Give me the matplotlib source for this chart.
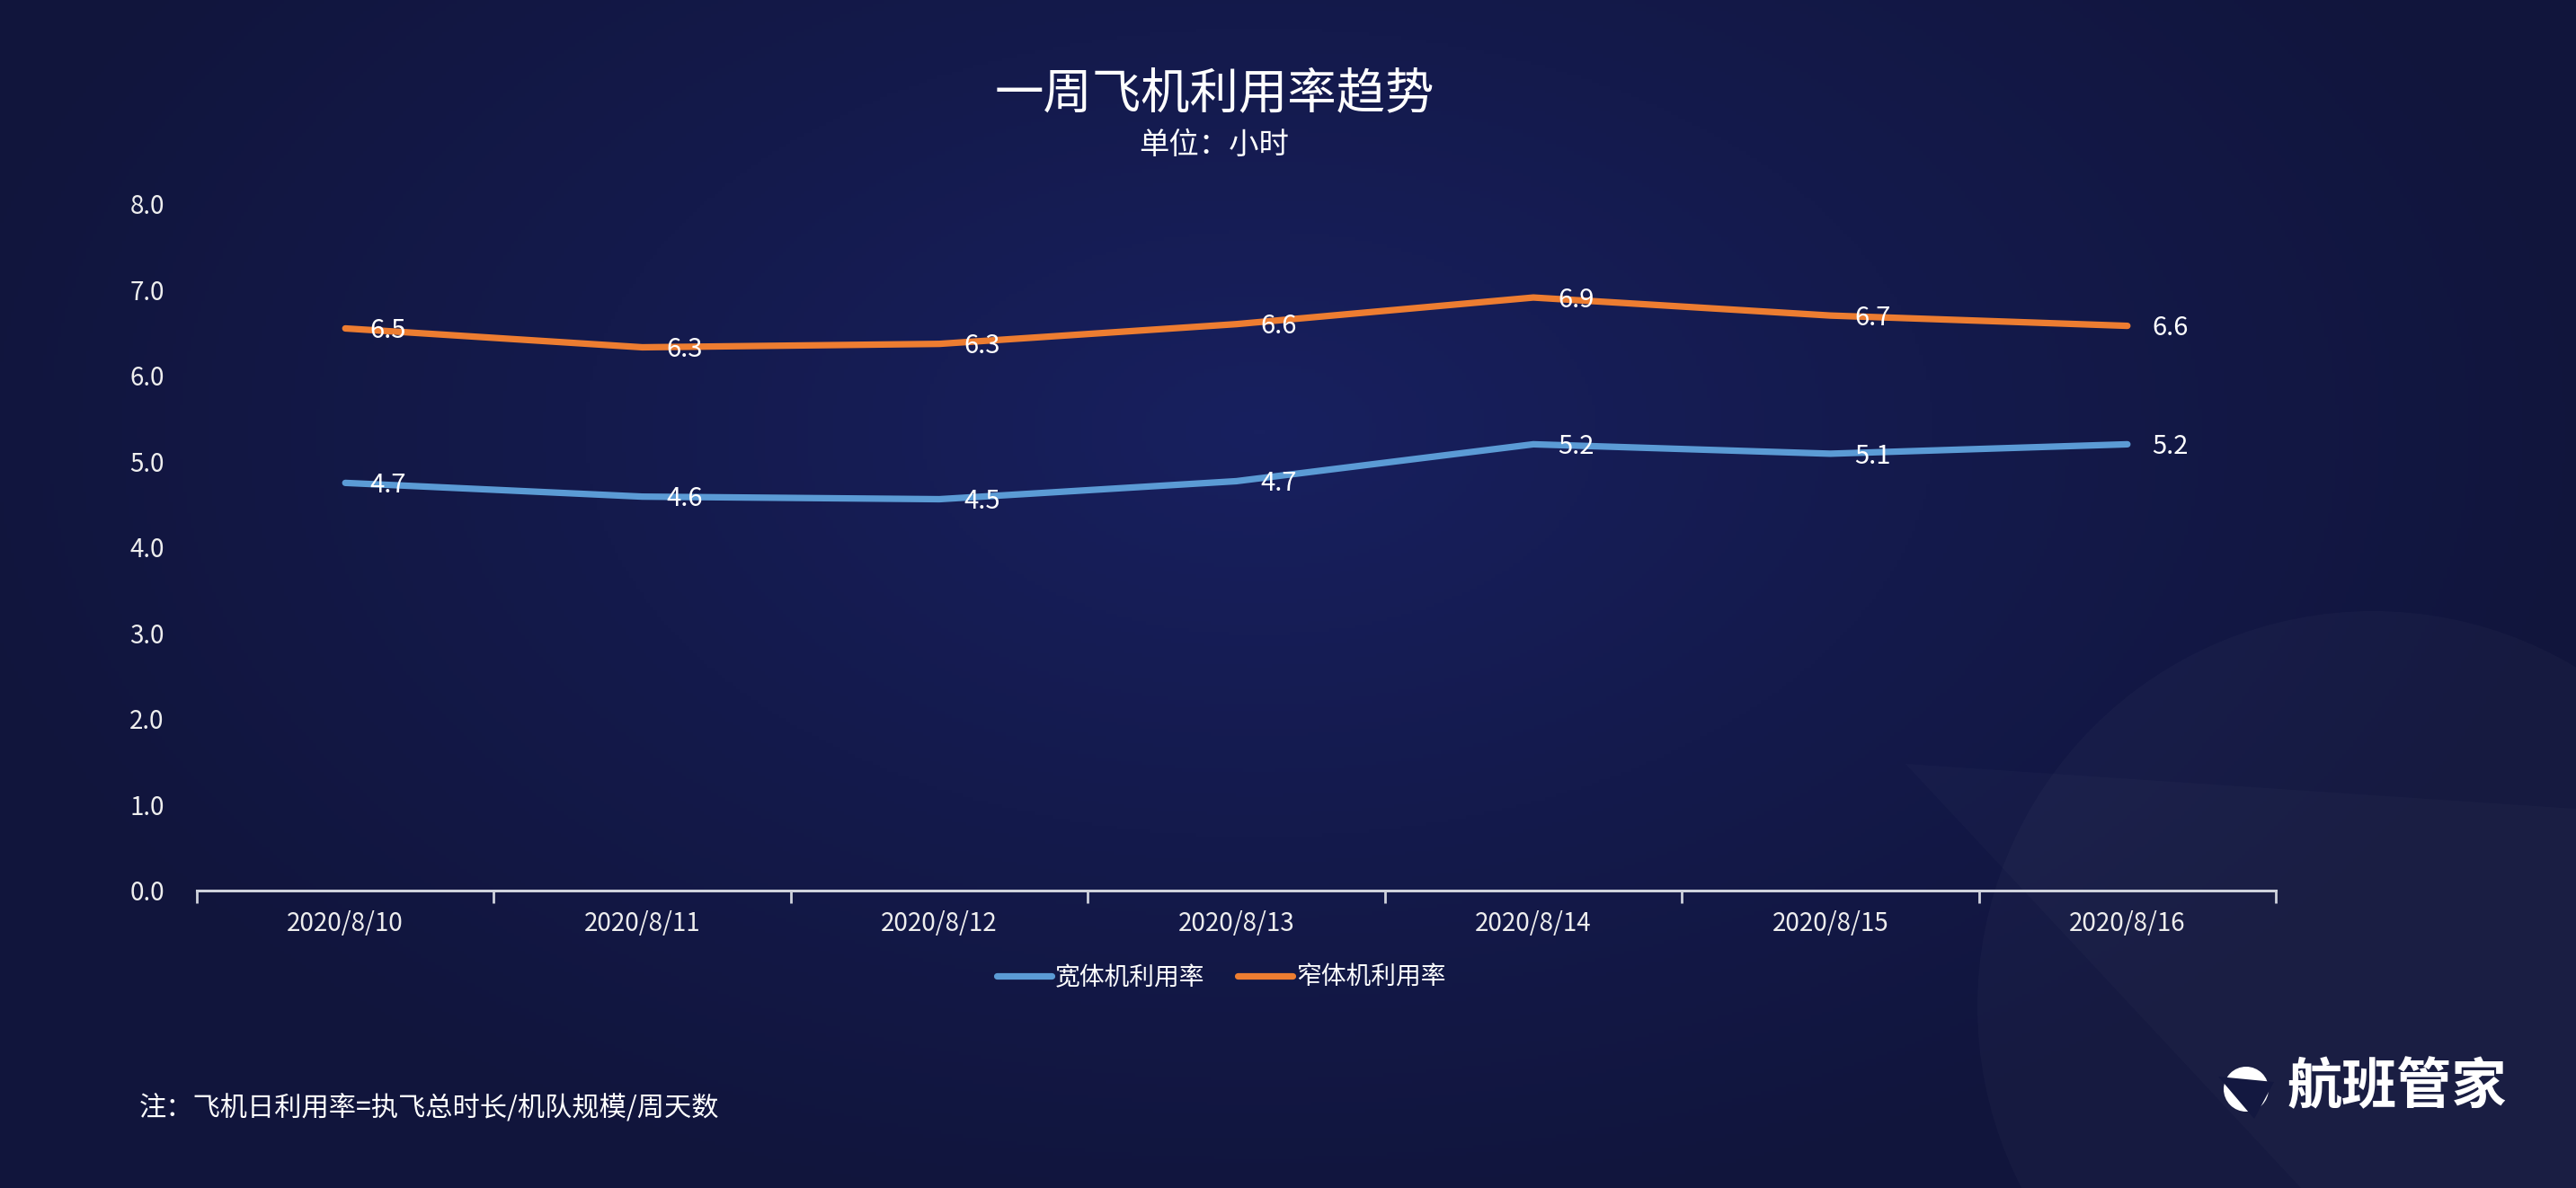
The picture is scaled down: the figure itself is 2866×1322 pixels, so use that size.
import numpy as np
import matplotlib
matplotlib.use('Agg')
import matplotlib.pyplot as plt
from matplotlib.colors import LinearSegmentedColormap
from matplotlib.patches import Circle, Polygon

plt.rcParams['font.family'] = ['Noto Sans CJK SC', 'DejaVu Sans']

# 数据
dates = ['2020/8/10', '2020/8/11', '2020/8/12', '2020/8/13', '2020/8/14', '2020/8/15', '2020/8/16']
wide_body = [4.75, 4.59, 4.56, 4.77, 5.2, 5.09, 5.2]
narrow_body = [6.55, 6.33, 6.37, 6.6, 6.91, 6.7, 6.58]
wide_labels = ['4.7', '4.6', '4.5', '4.7', '5.2', '5.1', '5.2']
narrow_labels = ['6.5', '6.3', '6.3', '6.6', '6.9', '6.7', '6.6']
y_ticks = [0, 1, 2, 3, 4, 5, 6, 7, 8]

blue = '#5b9bd5'
orange = '#ed7d31'

fig = plt.figure(figsize=(14.33, 6.61), dpi=200)

# 背景渐变 + 水印
bg = fig.add_axes([0, 0, 1, 1], zorder=-10)
W, H = 2866, 1322
yy, xx = np.mgrid[0:H:4, 0:W:4]
r = np.sqrt(((xx - 1400) / 1500.0) ** 2 + ((yy - 480) / 900.0) ** 2)
cmap = LinearSegmentedColormap.from_list('bg', ['#18205f', '#141a4c', '#11153c'])
bg.imshow(np.clip(r, 0, 1), cmap=cmap, extent=[0, W, H, 0], aspect='auto', vmin=0, vmax=1)
bg.add_patch(Circle((2640, 1120), 440, facecolor='white', alpha=0.022, edgecolor='none'))
bg.add_patch(Polygon([(2120, 850), (2866, 900), (2866, 1322), (2560, 1322)],
                     facecolor='white', alpha=0.018, edgecolor='none'))
bg.set_xlim(0, W)
bg.set_ylim(H, 0)
bg.axis('off')

ax = fig.add_axes([0.0764, 0.2504, 0.8071, 0.5779])
ax.set_facecolor('none')
x = np.arange(len(dates))
ax.plot(x, wide_body, color=blue, lw=2.6, solid_capstyle='round', label='宽体机利用率')
ax.plot(x, narrow_body, color=orange, lw=2.6, solid_capstyle='round', label='窄体机利用率')

for xi, v, s in zip(x, wide_body, wide_labels):
    ax.annotate(s, (xi, v), xytext=(17, -1), textcoords='offset points',
                ha='center', va='center', color='white', fontsize=10.5)
for xi, v, s in zip(x, narrow_body, narrow_labels):
    ax.annotate(s, (xi, v), xytext=(17, -1), textcoords='offset points',
                ha='center', va='center', color='white', fontsize=10.5)

ax.set_xlim(-0.5, len(dates) - 0.5)
ax.set_ylim(0, 8)
ax.set_yticks(y_ticks)
ax.set_yticklabels(['%.1f' % t for t in y_ticks])
ax.set_xticks(np.arange(-0.5, len(dates), 1))
ax.set_xticklabels([])
ax.set_xticks(x, minor=True)
ax.set_xticklabels(dates, minor=True)
ax.tick_params(axis='x', which='major', length=5, width=1, color='#cfd2dc', direction='out')
ax.tick_params(axis='x', which='minor', length=0, pad=8, labelsize=10, labelcolor='#eeeeee')
ax.tick_params(axis='y', length=0, pad=13, labelsize=10, labelcolor='#eeeeee')
for s in ['top', 'right', 'left']:
    ax.spines[s].set_visible(False)
ax.spines['bottom'].set_color('#cfd2dc')
ax.spines['bottom'].set_linewidth(1.1)

leg = fig.legend(loc='center', bbox_to_anchor=(0.474, 0.177), ncol=2, frameon=False,
                 fontsize=10, handlelength=2.2, handletextpad=0.15, columnspacing=1.3)
for t in leg.get_texts():
    t.set_color('white')

fig.text(0.4714, 0.921, '一周飞机利用率趋势', ha='center', va='center', color='white', fontsize=19.6)
fig.text(0.4714, 0.878, '单位：小时', ha='center', va='center', color='white', fontsize=12)
fig.text(0.054, 0.0666, '注：飞机日利用率=执飞总时长/机队规模/周天数', ha='left', va='center',
         color='white', fontsize=10.9)

# 右下角标志
bg.add_patch(Circle((2499, 1212), 25, facecolor='white', edgecolor='none'))
bg.add_patch(Polygon([(2468, 1198), (2530, 1204), (2508, 1245)], facecolor='#131840', edgecolor='none'))
fig.text(0.888, 0.0847, '航班管家', ha='left', va='center', color='white', fontsize=22, fontweight='bold')

fig.savefig('out.png', dpi=200)
